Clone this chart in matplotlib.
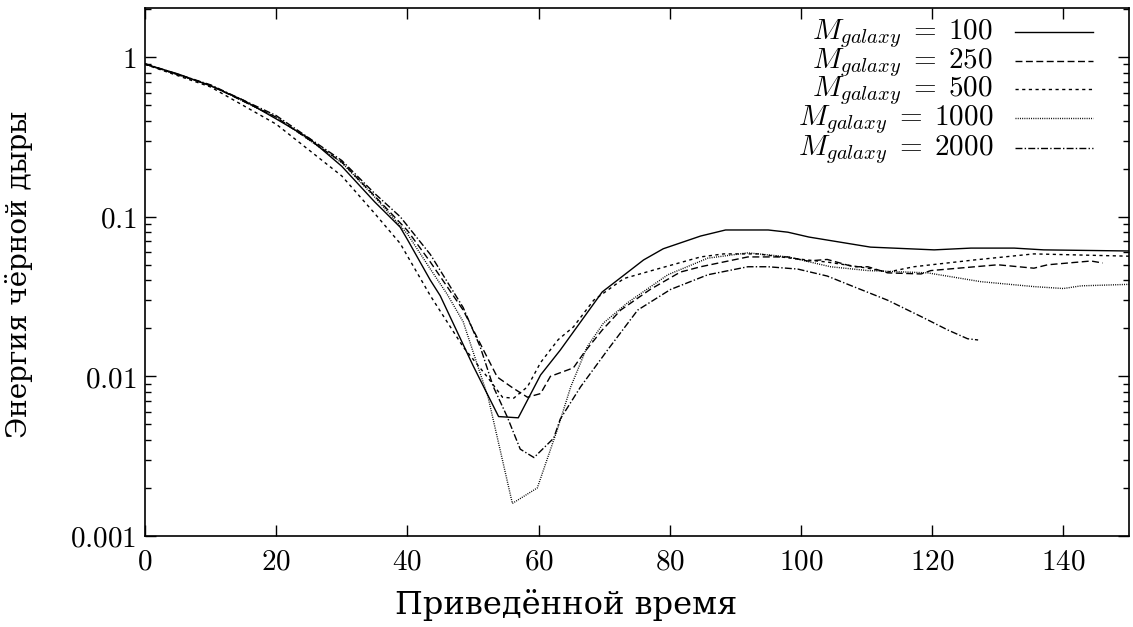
import matplotlib
matplotlib.use("Agg")
import matplotlib.pyplot as plt
from matplotlib.ticker import FixedLocator, NullFormatter, FuncFormatter

# ---- data ----
x_100 = [0, 5, 10, 15, 20, 25, 30, 35, 38.9, 40, 43.5, 45, 50, 53.9, 56.9, 60.3, 63.3,
         69.7, 76, 79, 84.7, 88.5, 95, 98, 101.2, 110.6, 120.3, 125.9, 132.5, 137, 150]
y_100 = [0.904, 0.785, 0.66, 0.537, 0.41, 0.31, 0.207, 0.124, 0.086, 0.072, 0.040, 0.032,
         0.0117, 0.0056, 0.0055, 0.0102, 0.0146, 0.0338, 0.0536, 0.063, 0.0757, 0.0826,
         0.0826, 0.080, 0.0746, 0.0645, 0.062, 0.0636, 0.0636, 0.062, 0.061]

x_250 = [0, 10, 20, 30, 35, 40, 43.5, 48.5, 53.7, 56, 58.3, 60.3, 61.8, 65.3, 67, 69.7, 72.5,
         77, 81.6, 84.7, 91.9, 98, 101, 104, 108, 110.2, 113.2, 118.3, 119.8, 130, 135.5,
         137.6, 144.2, 146]
y_250 = [0.905, 0.665, 0.42, 0.22, 0.135, 0.082, 0.052, 0.026, 0.0099, 0.0085, 0.0074, 0.0078,
         0.0100, 0.0113, 0.0142, 0.0195, 0.026, 0.035, 0.045, 0.0486, 0.056, 0.056, 0.0528,
         0.054, 0.0486, 0.0486, 0.0445, 0.0438, 0.046, 0.050, 0.0476, 0.050, 0.0528, 0.0513]

x_500 = [0, 10, 20, 30, 35, 38.9, 43.5, 48.5, 52.2, 54.5, 56.2, 58.3, 60.3, 63, 65.3, 68.4,
         73, 77.5, 84.7, 88.2, 93.4, 98.4, 104, 110.2, 113.2, 117.2, 126.4, 135.5, 150]
y_500 = [0.90, 0.65, 0.38, 0.18, 0.105, 0.068, 0.032, 0.0153, 0.0099, 0.0074, 0.0073, 0.0086,
         0.0122, 0.017, 0.0204, 0.030, 0.041, 0.0463, 0.056, 0.0585, 0.0585, 0.055, 0.052,
         0.0476, 0.045, 0.0486, 0.0536, 0.0585, 0.0566]

x_1000 = [0, 10, 20, 30, 35, 40, 43.5, 46, 48.5, 52.3, 56, 59.8, 62.9, 64.9, 67.4, 69.9, 73.6,
          79.7, 85.8, 91.9, 98, 104.5, 110.2, 119.3, 127.4, 135.5, 140, 142.7, 150]
y_1000 = [0.905, 0.665, 0.42, 0.218, 0.133, 0.078, 0.047, 0.033, 0.022, 0.0074, 0.0016, 0.0020,
          0.0047, 0.0086, 0.0153, 0.0216, 0.029, 0.0433, 0.055, 0.0594, 0.056, 0.0486, 0.046,
          0.0445, 0.0392, 0.0365, 0.0355, 0.0369, 0.0377]

x_2000 = [0, 10, 20, 30, 35, 38.9, 43.5, 48.5, 51.1, 53.1, 55.2, 57.2, 59.3, 62.3, 63.3, 66.4,
          70.5, 75.1, 80.1, 85.8, 91.9, 95, 99.5, 104, 108, 113.2, 118.3, 122.4, 125.4, 127]
y_2000 = [0.91, 0.67, 0.43, 0.225, 0.14, 0.10, 0.058, 0.027, 0.0153, 0.0086, 0.0056, 0.0035,
          0.0031, 0.0041, 0.0054, 0.0086, 0.0146, 0.026, 0.035, 0.0433, 0.0486, 0.0486,
          0.047, 0.0425, 0.0365, 0.030, 0.0237, 0.0195, 0.0172, 0.0169]

labels = [r"$M_{galaxy}\;=\;100$", r"$M_{galaxy}\;=\;250$", r"$M_{galaxy}\;=\;500$",
          r"$M_{galaxy}\;=\;1000$", r"$M_{galaxy}\;=\;2000$"]
x_ticks = [0, 20, 40, 60, 80, 100, 120, 140]
y_ticks = [0.001, 0.01, 0.1, 1]
y_tick_labels = ["0.001", "0.01", "0.1", "1"]
x_label = "Приведённой время"
y_label = "Энергия чёрной дыры"

# ---- styling ----
plt.rcParams['mathtext.fontset'] = 'cm'
plt.rcParams['font.family'] = ['DejaVu Serif']
FS = 21

W, H = 1133, 627
fig = plt.figure(figsize=(W / 100, H / 100), dpi=100)
L, R, T, B = 145, 1129, 8, 536
ax = fig.add_axes([L / W, 1 - B / H, (R - L) / W, (B - T) / H])

styles = ['-', (0, (5, 2.5)), (0, (2.3, 2.5)), (0, (0.7, 0.9)), (0, (5, 1.6, 1, 1.6))]
series = [(x_100, y_100), (x_250, y_250), (x_500, y_500), (x_1000, y_1000), (x_2000, y_2000)]
for (xs, ys), ls in zip(series, styles):
    ax.plot(xs, ys, color='black', lw=1.0, linestyle=ls)

ax.set_yscale('log')
ax.set_xlim(0, 150)
ax.set_ylim(0.001, 2.03)

lab_map = dict(zip(y_ticks, y_tick_labels))
ax.xaxis.set_major_locator(FixedLocator(x_ticks))
ax.xaxis.set_major_formatter(FuncFormatter(lambda v, p: r"$%d$" % v))
ax.yaxis.set_major_locator(FixedLocator(y_ticks))
ax.yaxis.set_major_formatter(FuncFormatter(
    lambda v, p: "$" + lab_map[v] + "$" if v in lab_map else ""))
minor = [m * 10.0 ** e for e in range(-3, 1) for m in range(2, 10)]
ax.yaxis.set_minor_locator(FixedLocator(minor))
ax.yaxis.set_minor_formatter(NullFormatter())

ax.tick_params(axis='both', which='major', direction='in', length=8, width=1.0,
               top=True, right=True, labelsize=FS)
ax.tick_params(axis='x', which='major', pad=8)
ax.tick_params(axis='y', which='major', pad=6)
ax.tick_params(axis='both', which='minor', direction='in', length=4.5, width=1.0,
               top=True, right=True)
for s in ax.spines.values():
    s.set_linewidth(1.2)

ax.set_xlabel(x_label, fontsize=23)
ax.set_ylabel(y_label, fontsize=20)
ax.xaxis.label.set_va('center')
ax.yaxis.label.set_va('center')
ax.xaxis.set_label_coords((566 - L) / (R - L), 1 - (605 - T) / (B - T))
ax.yaxis.set_label_coords((19 - L) / (R - L), 1 - (274 - T) / (B - T))

# legend drawn in gnuplot style: right-aligned text, sample on the right
text_x = (993 - L) / (R - L)
line_x0 = (1015 - L) / (R - L)
line_x1 = (1093 - L) / (R - L)
rows_px = [32, 61, 89, 118, 148]
base_px = [39, 68, 96, 125, 155]
for lab, ls, rp, bp in zip(labels, styles, rows_px, base_px):
    yb = 1 - (bp - T) / (B - T)
    yl = 1 - (rp - T) / (B - T)
    ax.text(text_x, yb, lab, transform=ax.transAxes, ha='right', va='baseline', fontsize=FS)
    ax.plot([line_x0, line_x1], [yl, yl], transform=ax.transAxes, color='black',
            lw=1.0, linestyle=ls, clip_on=False)

fig.savefig("out.png", dpi=100)
